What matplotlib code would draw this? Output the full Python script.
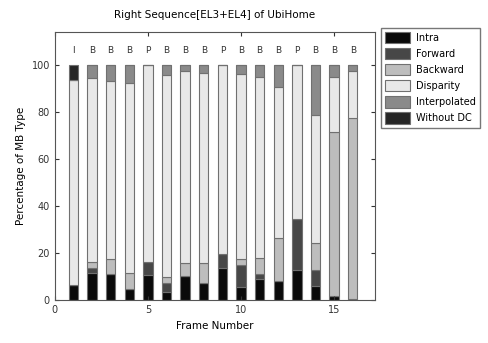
import matplotlib
matplotlib.use("Agg")
import matplotlib.pyplot as plt
import numpy as np

# Frame data, percentages of MB type per frame
frames = np.arange(1, 17)
frame_types = ["I", "B", "B", "B", "P", "B", "B", "B",
               "P", "B", "B", "B", "P", "B", "B", "B"]
intra = [6.5, 11.6, 11.3, 4.8, 10.5, 3.4, 10.4, 7.1,
         13.5, 5.7, 8.8, 8.2, 12.8, 6.2, 1.7, 0.4]
forward = [0, 1.9, 0, 0, 5.7, 3.7, 0, 0,
           6.1, 9.2, 2.1, 0, 21.5, 6.6, 0, 0]
backward = [0, 2.5, 6.0, 6.8, 0, 2.8, 5.5, 8.8,
            0, 2.4, 6.8, 18.0, 0, 11.3, 69.9, 76.9]
disparity = [87.0, 78.3, 75.9, 80.6, 83.8, 85.8, 81.3, 80.8,
             80.4, 78.9, 77.1, 64.3, 65.7, 54.6, 23.2, 19.9]
interpolated = [0, 5.7, 6.8, 7.8, 0, 4.3, 2.8, 3.3,
                0, 3.8, 5.2, 9.5, 0, 21.3, 5.2, 2.8]
without_dc = [6.5, 0, 0, 0, 0, 0, 0, 0,
              0, 0, 0, 0, 0, 0, 0, 0]

series = [
    ("Intra", intra, "#0a0a0a"),
    ("Forward", forward, "#474747"),
    ("Backward", backward, "#bdbdbd"),
    ("Disparity", disparity, "#e8e8e8"),
    ("Interpolated", interpolated, "#8a8a8a"),
    ("Without DC", without_dc, "#262626"),
]

plt.rcParams.update({"font.size": 7, "font.family": "DejaVu Sans"})
fig = plt.figure(figsize=(4.89, 3.43), dpi=100)
ax = fig.add_axes([0.112, 0.125, 0.655, 0.782])

bottom = np.zeros(len(frames))
for name, vals, color in series:
    vals = np.array(vals)
    ax.bar(frames, vals, width=0.5, bottom=bottom, color=color,
           edgecolor="#707070", linewidth=0.8, label=name)
    bottom += vals

for x, t in zip(frames, frame_types):
    ax.text(x, 106, t, ha="center", va="center", fontsize=6.5, color="#333333")

ax.set_xlim(0, 17.2)
ax.set_ylim(0, 114)
ax.set_xticks([0, 5, 10, 15])
ax.set_yticks([0, 20, 40, 60, 80, 100])
ax.tick_params(direction="in", top=True, right=True, length=3, colors="#333333")
for s in ax.spines.values():
    s.set_color("#555555")
ax.set_xlabel("Frame Number", fontsize=7.5)
ax.set_ylabel("Percentage of MB Type", fontsize=7.5)
ax.set_title("Right Sequence[EL3+EL4] of UbiHome", fontsize=7.5, pad=10)

leg = ax.legend(loc="upper left", bbox_to_anchor=(1.01, 1.025), fontsize=7,
                frameon=True, fancybox=False, edgecolor="#555555",
                handlelength=2.6, handleheight=1.4, labelspacing=0.5,
                handletextpad=0.6, borderaxespad=0.3, borderpad=0.4)

fig.savefig("out.png", dpi=100)
